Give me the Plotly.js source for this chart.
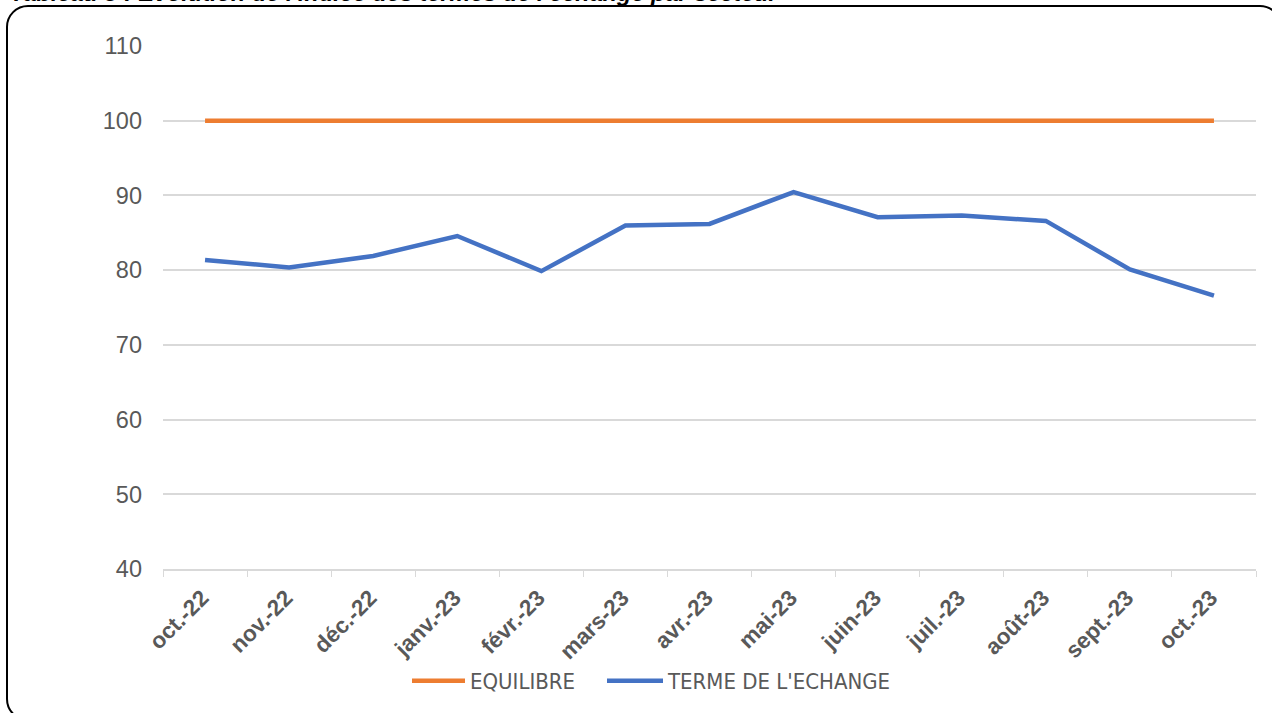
<!DOCTYPE html>
<html>
<head>
<meta charset="utf-8">
<script src="https://cdn.plot.ly/plotly-3.0.1.min.js"></script>
<style>
  html, body { margin: 0; padding: 0; background: #ffffff; overflow: hidden; }
  #wrap { position: relative; width: 1272px; height: 713px; overflow: hidden; }
  #chart { position: absolute; left: 0; top: 0; width: 1272px; height: 713px; }
  #frame { position: absolute; left: 6px; top: 5px; width: 1276px; height: 716px;
           border: 2.5px solid #000; border-radius: 22px; box-sizing: border-box; pointer-events: none; }
</style>
</head>
<body>
<div id="wrap">
  <div id="chart"></div>
  <div id="frame"></div>
</div>
<script>
const months = ["oct.-22","nov.-22","déc.-22","janv.-23","févr.-23","mars-23","avr.-23","mai-23","juin-23","juil.-23","août-23","sept.-23","oct.-23"];
const equilibre = [100,100,100,100,100,100,100,100,100,100,100,100,100];
const termeEchange = [81.35,80.36,81.9,84.57,79.87,85.96,86.19,90.45,87.09,87.31,86.59,80.09,76.59];
const yTicks = [40,50,60,70,80,90,100,110];
const titleText = "Tableau 3 : Evolution de l'indice des termes de l'échange par secteur";

const traces = [
  { x: months, y: equilibre, type: "scatter", mode: "lines", name: "EQUILIBRE", legend: "legend",
    line: { color: "#ED7D31", width: 4.5 }, hoverinfo: "x+y" },
  { x: months, y: termeEchange, type: "scatter", mode: "lines", name: "TERME DE L'ECHANGE", legend: "legend2",
    line: { color: "#4472C4", width: 4.5 }, hoverinfo: "x+y" }
];

const legendFont = { family: "Liberation Sans Narrow, DejaVu Sans Condensed, sans-serif", size: 22, color: "#595959" };

const layout = {
  width: 1272, height: 713,
  margin: { l: 163, r: 16, t: 46, b: 144, pad: 0 },
  paper_bgcolor: "#ffffff", plot_bgcolor: "#ffffff",
  font: { family: "Liberation Sans, Arial, sans-serif", color: "#595959" },
  showlegend: true,
  legend: {
    orientation: "h", xref: "container", yref: "container",
    x: 407 / 1272, xanchor: "left", y: 0.045, yanchor: "middle",
    font: legendFont, itemwidth: 53, bgcolor: "rgba(0,0,0,0)"
  },
  legend2: {
    orientation: "h", xref: "container", yref: "container",
    x: 602 / 1272, xanchor: "left", y: 0.045, yanchor: "middle",
    font: legendFont, itemwidth: 56, bgcolor: "rgba(0,0,0,0)"
  },
  xaxis: {
    type: "category", tickvals: months, ticktext: months,
    tickangle: -45, tickson: "boundaries", ticks: "outside", ticklen: 6, tickcolor: "#d9d9d9",
    showline: true, linecolor: "#d9d9d9", linewidth: 1.5,
    showgrid: false, zeroline: false, ticklabelshift: -3, ticklabelstandoff: 5,
    tickfont: { family: "Liberation Sans, Arial, sans-serif", size: 22.5, color: "#595959", weight: "bold" },
    range: [-0.5, 12.5], fixedrange: true
  },
  yaxis: {
    range: [40, 110], tickvals: yTicks, ticktext: yTicks.map(String),
    showgrid: true, gridcolor: "#d9d9d9", gridwidth: 1.5,
    showline: false, zeroline: false, ticks: "", ticklabelstandoff: 20,
    tickfont: { family: "Liberation Sans, Arial, sans-serif", size: 23.5, color: "#595959" },
    fixedrange: true
  },
  annotations: [{
    text: titleText, showarrow: false,
    xref: "paper", yref: "paper", x: -0.1418, xanchor: "left",
    y: 1.0736, yanchor: "bottom",
    font: { family: "Liberation Sans, Arial, sans-serif", size: 23.5, color: "#000000", weight: "bold", style: "italic" }
  }]
};

Plotly.newPlot("chart", traces, layout, { displayModeBar: false });
</script>
</body>
</html>
